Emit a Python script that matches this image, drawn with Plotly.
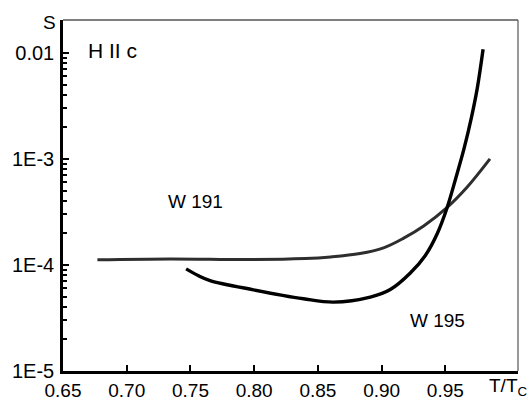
import plotly.graph_objects as go

# W 191 curve (T/Tc, S)
w191_x = [0.677, 0.734, 0.797, 0.840, 0.860, 0.883, 0.9015, 0.917, 0.933, 0.951, 0.967, 0.985]
w191_y = [1.12e-4, 1.14e-4, 1.125e-4, 1.15e-4, 1.19e-4, 1.28e-4, 1.45e-4, 1.78e-4, 2.33e-4, 3.45e-4, 5.4e-4, 1.0e-3]

# W 195 curve
w195_x = [0.7466, 0.7560, 0.7654, 0.7994, 0.8387, 0.8623, 0.8911, 0.9068, 0.9225, 0.9343, 0.9435,
          0.9513, 0.9583, 0.9648, 0.9704, 0.9751, 0.9796]
w195_y = [9.18e-5, 7.95e-5, 7.13e-5, 5.83e-5, 4.80e-5, 4.46e-5, 4.97e-5, 5.86e-5, 8.39e-5, 1.23e-4, 1.96e-4,
          3.45e-4, 6.65e-4, 1.27e-3, 2.44e-3, 4.68e-3, 1.08e-2]

x_ticks = [0.65, 0.70, 0.75, 0.80, 0.85, 0.90, 0.95]
x_ticktext = ["0.65", "0.70", "0.75", "0.80", "0.85", "0.90", "0.95"]
y_ticks = [1e-5, 1e-4, 1e-3, 1e-2]
y_ticktext = ["1E-5", "1E-4", "1E-3", "0.01"]
minor_mult = [2, 3, 4, 5, 6, 7, 8, 9]
y_minor = [m * d for d in [1e-5, 1e-4, 1e-3] for m in minor_mult]

FONT = "Liberation Sans, Arial, sans-serif"

fig = go.Figure()
fig.add_trace(go.Scatter(x=w191_x, y=w191_y, mode="lines",
                         line=dict(color="#2e2e2e", width=3, shape="spline", smoothing=1.0),
                         name="W 191"))
fig.add_trace(go.Scatter(x=w195_x, y=w195_y, mode="lines",
                         line=dict(color="#000000", width=3.4, shape="spline", smoothing=1.0),
                         name="W 195"))

fig.update_layout(
    width=532, height=401,
    margin=dict(l=63, r=14, t=20, b=30, autoexpand=False),
    paper_bgcolor="white", plot_bgcolor="white",
    showlegend=False,
    font=dict(family=FONT, size=19, color="black"),
    xaxis=dict(range=[0.65, 1.007], tickmode="array", tickvals=x_ticks, ticktext=x_ticktext,
               ticks="inside", ticklen=6, tickwidth=2, tickcolor="black", ticklabelstandoff=0,
               showline=True, linecolor="black", linewidth=2.5, showgrid=False, zeroline=False,
               automargin=False, tickfont=dict(family=FONT, size=19)),
    yaxis=dict(type="log", range=[-5, -1.69], tickmode="array", tickvals=y_ticks, ticktext=y_ticktext,
               ticks="inside", ticklen=6, tickwidth=2, tickcolor="black", ticklabelstandoff=2,
               minor=dict(tickmode="array", tickvals=y_minor, ticks="inside", ticklen=4,
                          tickwidth=2, tickcolor="black", showgrid=False),
               showline=True, linecolor="black", linewidth=2.5, showgrid=False, zeroline=False,
               automargin=False, tickfont=dict(family=FONT, size=20)),
)

# top and right frame
fig.add_shape(type="line", xref="paper", yref="paper", x0=0, x1=1, y0=1, y1=1,
              line=dict(color="black", width=1.2))
fig.add_shape(type="line", xref="paper", yref="paper", x0=1, x1=1, y0=0, y1=1,
              line=dict(color="#555555", width=1.2))

fig.add_annotation(text="S", xref="paper", yref="paper", x=-0.0286, y=0.994, xanchor="center", yanchor="middle",
                   showarrow=False, font=dict(family=FONT, size=19))
fig.add_annotation(text="H II c", x=0.668, y=-1.98, xanchor="left", yanchor="middle",
                   showarrow=False, font=dict(family=FONT, size=21))
fig.add_annotation(text="W 191", x=0.731, y=-3.403, xanchor="left", yanchor="middle",
                   showarrow=False, font=dict(family=FONT, size=19))
fig.add_annotation(text="W 195", x=0.921, y=-4.524, xanchor="left", yanchor="middle",
                   showarrow=False, font=dict(family=FONT, size=19))
fig.add_annotation(text="T/T<sub>C</sub>", xref="paper", yref="paper", x=1.026, y=-0.045,
                   xanchor="right", yanchor="middle",
                   showarrow=False, font=dict(family=FONT, size=19))

fig.write_html("out.html", config={"displayModeBar": False},
               post_script="document.body.style.margin='0';document.body.style.padding='0';"
                           "document.documentElement.style.overflow='hidden';")
